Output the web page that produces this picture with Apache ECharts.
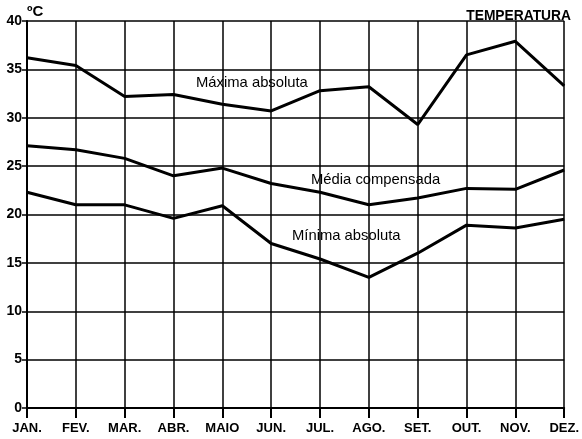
<!DOCTYPE html>
<html>
<head>
<meta charset="utf-8">
<script src="https://cdn.jsdelivr.net/npm/echarts@6/dist/echarts.min.js"></script>
<style>
  html, body { margin: 0; padding: 0; background: #fff; }
  #chart { width: 582px; height: 439px; }
</style>
</head>
<body>
<div id="chart"></div>
<script>
// meses e temperaturas
const months = ["JAN.", "FEV.", "MAR.", "ABR.", "MAIO", "JUN.", "JUL.", "AGO.", "SET.", "OUT.", "NOV.", "DEZ."];
const maxima = [36.2, 35.4, 32.2, 32.4, 31.4, 30.7, 32.8, 33.2, 29.3, 36.5, 37.9, 33.3];
const media = [27.1, 26.7, 25.8, 24.0, 24.8, 23.2, 22.3, 21.0, 21.7, 22.7, 22.6, 24.6];
const minima = [22.3, 21.0, 21.0, 19.6, 20.9, 17.0, 15.4, 13.5, 16.0, 18.9, 18.6, 19.5];
const yTicks = [0, 5, 10, 15, 20, 25, 30, 35, 40];

const font = "'Liberation Sans', Arial, sans-serif";
const chart = echarts.init(document.getElementById("chart"));

function lineSeries(name, data) {
  return {
    name: name,
    type: "line",
    data: data,
    symbol: "none",
    lineStyle: { color: "#000", width: 3 },
    animation: false
  };
}

function label(text, x, y) {
  return {
    type: "text", x: x, y: y,
    style: { text: text, fill: "#000", font: "14.8px " + font, verticalAlign: "middle" }
  };
}

chart.setOption({
  animation: false,
  grid: { left: 27, right: 14, top: 21, bottom: 31 },
  xAxis: {
    type: "category",
    data: months,
    boundaryGap: false,
    axisLine: { lineStyle: { color: "#000", width: 2 } },
    axisTick: { show: true, length: 10, lineStyle: { color: "#000", width: 2 } },
    axisLabel: { color: "#000", fontFamily: font, fontWeight: "bold", fontSize: 13, margin: 14 },
    splitLine: { show: true, lineStyle: { color: "#000", width: 1.5 } }
  },
  yAxis: {
    type: "value",
    min: yTicks[0],
    max: yTicks[yTicks.length - 1],
    interval: 5,
    axisLine: { show: true, lineStyle: { color: "#000", width: 2 } },
    axisTick: { show: true, length: 5, lineStyle: { color: "#000", width: 1.5 } },
    axisLabel: { color: "#000", fontFamily: font, fontWeight: "bold", fontSize: 14, margin: 5 },
    splitLine: { show: true, lineStyle: { color: "#000", width: 1.5 } }
  },
  graphic: [
    { type: "text", x: 27, y: 12, style: { text: "ºC", fill: "#000", font: "bold 15px " + font, verticalAlign: "middle" } },
    { type: "text", x: 571, y: 16, style: { text: "TEMPERATURA", fill: "#000", font: "bold 13.8px " + font, align: "right", verticalAlign: "middle" } },
    label("Máxima absoluta", 196, 83),
    label("Média compensada", 311, 180),
    label("Mínima absoluta", 292, 236)
  ],
  series: [
    lineSeries("Máxima absoluta", maxima),
    lineSeries("Média compensada", media),
    lineSeries("Mínima absoluta", minima)
  ]
});
</script>
</body>
</html>
